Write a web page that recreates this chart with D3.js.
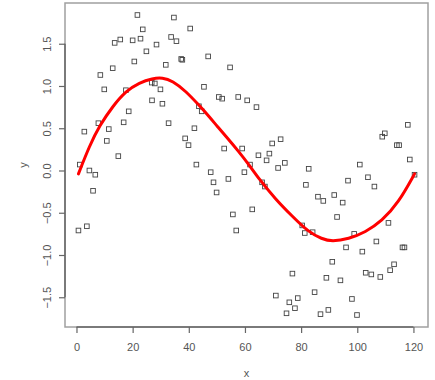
<!DOCTYPE html>
<html>
<head>
<meta charset="utf-8">
<script src="https://cdn.jsdelivr.net/npm/d3@7"></script>
<style>
  body { margin: 0; background: #fff; }
  text { font-family: "Liberation Sans", Arial, sans-serif; }
</style>
</head>
<body>
<div id="chart"></div>
<script>
//  ---------------  DATA   ---------------
const xValues = [0.7, 1.2, 2.8, 3.7, 4.6, 5.9, 6.7, 7.8, 8.5, 9.9, 10.8, 11.5, 12.9, 13.6, 14.9, 15.6, 16.8, 17.6, 18.6, 20.0,
  20.6, 21.7, 22.8, 23.6, 24.9, 26.8, 26.9, 27.9, 28.5, 29.9, 30.6, 31.8, 32.8, 33.7, 34.7, 35.6, 37.3, 37.7, 38.7, 39.9,
  40.5, 42.0, 42.7, 43.6, 44.6, 45.4, 46.9, 47.8, 48.8, 49.9, 50.7, 51.9, 52.6, 54.1, 54.7, 55.7, 56.9, 57.6, 59.0, 59.8,
  60.8, 61.8, 62.6, 64.1, 64.8, 66.1, 67.1, 67.7, 68.7, 69.7, 71.0, 71.8, 72.7, 74.2, 74.8, 75.8, 76.9, 77.8, 78.8, 80.4,
  81.3, 81.7, 82.7, 84.1, 84.8, 86.0, 86.9, 87.9, 89.0, 89.7, 91.1, 91.8, 92.8, 94.0, 94.8, 96.0, 96.7, 98.1, 98.9, 99.9,
  100.9, 101.8, 103.0, 103.8, 105.0, 106.1, 106.8, 108.2, 108.9, 109.8, 111.1, 111.7, 113.1, 114.1, 114.9, 116.1, 116.8, 118.0, 118.7, 120.4];
const yValues = [-0.71, 0.07, 0.46, -0.66, 0.00, -0.24, -0.05, 0.56, 1.13, 0.96, 0.35, 0.49, 1.21, 1.51, 0.17, 1.55, 0.57, 0.95, 0.70, 1.54,
  1.29, 1.84, 1.56, 1.67, 1.41, 1.04, 0.83, 1.03, 1.49, 0.96, 0.79, 1.25, 0.56, 1.58, 1.81, 1.53, 1.32, 1.31, 0.38, 0.30,
  1.68, 0.50, 0.07, 0.76, 0.70, 0.99, 1.35, -0.02, -0.14, -0.26, 0.87, 0.85, 0.26, -0.10, 1.22, -0.52, -0.71, 0.87, 0.26, -0.02,
  0.83, 0.07, -0.46, 0.75, 0.18, -0.14, -0.19, 0.12, 0.20, 0.32, -1.48, 0.03, 0.37, 0.09, -1.69, -1.56, -1.22, -1.63, -1.51, -0.65,
  -0.74, -0.17, 0.02, -0.73, -1.44, -0.31, -1.70, -0.36, -1.27, -1.65, -1.08, -0.29, -0.55, -1.30, -0.38, -0.91, -0.12, -1.52, -0.75, -1.71,
  0.07, -0.96, -1.21, -0.08, -1.23, -0.19, -0.84, -1.26, 0.40, 0.44, -0.62, -1.18, -1.11, 0.30, 0.30, -0.91, -0.91, 0.54, 0.13, -0.05];

// fitted curve
const fitX = [0.7, 4.6, 8.2, 12.9, 17.6, 22.4, 27.1, 30.6, 34.2, 38.9, 43.7, 47.2, 50.2, 53.1, 57.9, 61.4, 65.0,
  70.9, 76.8, 82.7, 87.4, 91.0, 96.9, 102.9, 108.7, 114.7, 120.4];
const fitY = [-0.04, 0.29, 0.53, 0.76, 0.94, 1.04, 1.09, 1.10, 1.06, 0.94, 0.77, 0.64, 0.52, 0.41, 0.22, 0.07, -0.10,
  -0.34, -0.54, -0.73, -0.81, -0.84, -0.81, -0.73, -0.60, -0.38, -0.04];

const xTicks = [0, 20, 40, 60, 80, 100, 120];
const yTicks = [-1.5, -1.0, -0.5, 0.0, 0.5, 1.0, 1.5];

//  ---------------  INITIALIZATION  ---------------
const svgWidth = 435;
const svgHeight = 380;
const box = { left: 65, right: 428, top: 3, bottom: 327 };

const svg = d3.select("#chart")
  .append("svg")
  .attr("width", svgWidth)
  .attr("height", svgHeight);

// R style: data range extended by 4% on each side
function padded(ext) {
  const d = (ext[1] - ext[0]) * 0.04;
  return [ext[0] - d, ext[1] + d];
}
const xScale = d3.scaleLinear().domain(padded(d3.extent(xValues))).range([box.left, box.right]);
const yScale = d3.scaleLinear().domain(padded(d3.extent(yValues))).range([box.bottom, box.top]);

//  ---------------  BOX + AXES  ---------------
svg.append("rect")
  .attr("x", box.left)
  .attr("y", box.top)
  .attr("width", box.right - box.left)
  .attr("height", box.bottom - box.top)
  .attr("fill", "none")
  .attr("stroke", "#a0a0a0")
  .attr("stroke-width", 1.5);

const xAxis = d3.axisBottom(xScale).tickValues(xTicks).tickSize(6).tickPadding(10).tickFormat(d3.format("d"));
const yAxis = d3.axisLeft(yScale).tickValues(yTicks).tickSize(6).tickPadding(0).tickFormat(d3.format(".1f"));

const gx = svg.append("g").attr("transform", "translate(0," + box.bottom + ")").call(xAxis);
const gy = svg.append("g").attr("transform", "translate(" + box.left + ",0)").call(yAxis);

[gx, gy].forEach(g => {
  g.select(".domain").attr("stroke", "#666").attr("stroke-width", 1.5)
    .attr("d", g === gx
      ? "M" + xScale(xTicks[0]) + ",0H" + xScale(xTicks[xTicks.length - 1])
      : "M0," + yScale(yTicks[0]) + "V" + yScale(yTicks[yTicks.length - 1]));
  g.selectAll(".tick line").attr("stroke", "#666").attr("stroke-width", 1.2);
  g.selectAll(".tick text").attr("fill", "#555").style("font-size", "11px");
});

// y labels rotated like R's default las=0
gy.selectAll(".tick text")
  .attr("x", 0)
  .attr("dy", 0)
  .attr("text-anchor", "middle")
  .attr("transform", "translate(-17,0) rotate(-90)")
  .attr("dominant-baseline", "middle");

svg.append("text")
  .attr("x", (box.left + box.right) / 2)
  .attr("y", 377)
  .attr("text-anchor", "middle")
  .attr("fill", "#555")
  .style("font-size", "11px")
  .text("x");

svg.append("text")
  .attr("transform", "translate(27," + (box.top + box.bottom) / 2 + ") rotate(-90)")
  .attr("text-anchor", "middle")
  .attr("fill", "#555")
  .style("font-size", "11px")
  .text("y");

//  ---------------  POINTS  ---------------
const sq = 4.6;
svg.append("g")
  .selectAll("rect")
  .data(xValues)
  .enter()
  .append("rect")
  .attr("x", (d) => xScale(d) - sq / 2)
  .attr("y", (d, i) => yScale(yValues[i]) - sq / 2)
  .attr("width", sq)
  .attr("height", sq)
  .attr("fill", "none")
  .attr("stroke", "#444")
  .attr("stroke-width", 0.9);

//  ---------------  FIT LINE  ---------------
const line = d3.line()
  .x((d) => xScale(d))
  .y((d, i) => yScale(fitY[i]))
  .curve(d3.curveBasis);

svg.append("path")
  .attr("d", line(fitX))
  .attr("fill", "none")
  .attr("stroke", "#ff0000")
  .attr("stroke-width", 3)
  .attr("stroke-linecap", "round");
</script>
</body>
</html>
